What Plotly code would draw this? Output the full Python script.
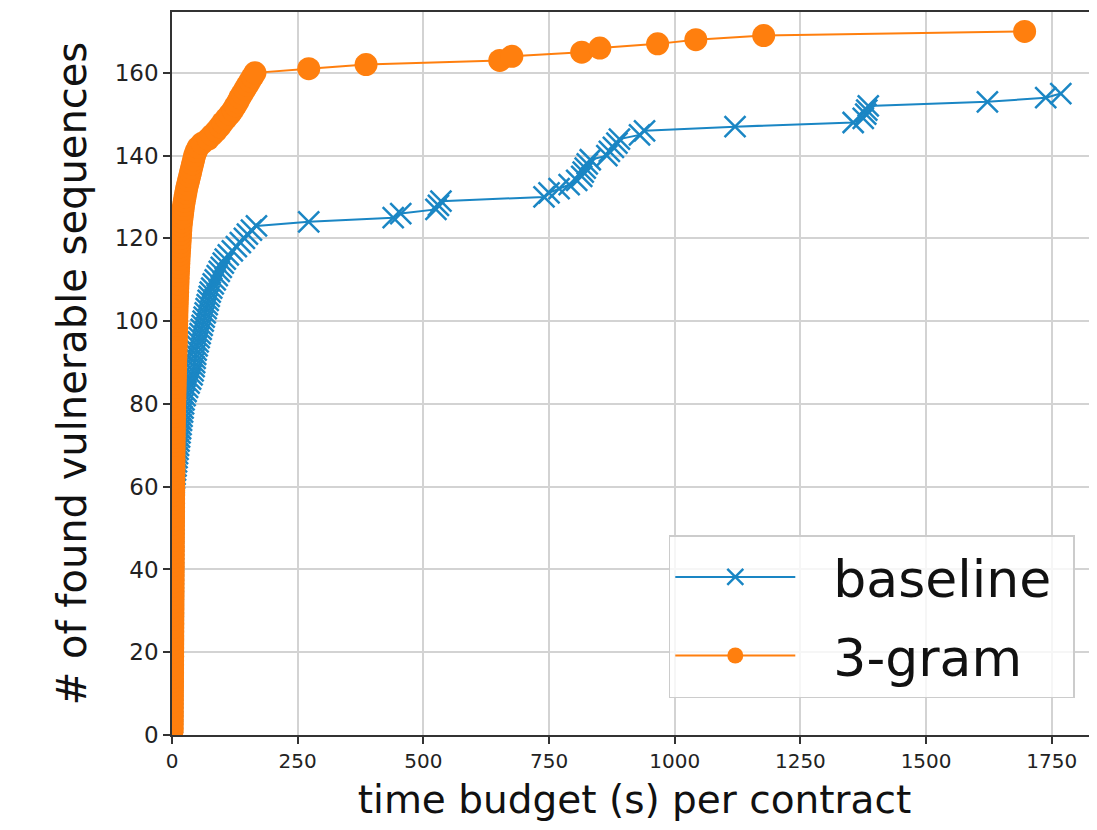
import plotly.graph_objects as go

# ---------------- data ----------------
# 3-gram: time (s) at which the k-th vulnerable sequence was found, and cumulative count
gram_time = [
    0.3, 0.4, 0.5, 0.5, 0.6, 0.6, 0.7, 0.7, 0.8, 0.8,
    0.9, 0.9, 1.0, 1.0, 1.1, 1.1, 1.2, 1.2, 1.3, 1.3,
    1.4, 1.4, 1.5, 1.5, 1.6, 1.6, 1.7, 1.7, 1.8, 1.8,
    1.9, 1.9, 2.0, 2.0, 2.1, 2.1, 2.2, 2.2, 2.3, 2.3,
    2.4, 2.4, 2.5, 2.5, 2.6, 2.6, 2.7, 2.7, 2.8, 2.8,
    2.9, 3.0, 3.0, 3.1, 3.1, 3.2, 3.2, 3.3, 3.3, 3.4,
    3.5, 3.5, 3.6, 3.7, 3.8, 3.8, 3.9, 4.0, 4.1, 4.2,
    4.3, 4.4, 4.5, 4.6, 4.7, 4.8, 4.9, 5.0, 5.2, 5.4,
    5.6, 5.8, 6.0, 6.2, 6.4, 6.6, 6.8, 7.0, 7.2, 7.4,
    7.6, 7.8, 8.0, 8.2, 8.4, 8.6, 8.8, 9.0, 9.2, 9.4,
    9.6, 9.8, 10.0, 10.3, 10.6, 10.9, 11.2, 11.5, 11.8, 12.1,
    12.4, 12.8, 13.2, 13.6, 14.0, 14.5, 15.0, 15.5, 16.0, 16.5,
    17.0, 17.5, 18.0, 19.0, 20.0, 21.0, 22.0, 23.0, 24.5, 26.0,
    27.5, 29.0, 31.0, 33.0, 35.0, 37.0, 39.0, 41.0, 43.0, 45.0,
    48.0, 52.0, 60.0, 72.0, 80.0, 88.0, 95.0, 101.0, 108.0, 115.0,
    121.0, 126.0, 131.0, 135.0, 140.0, 145.0, 150.0, 155.0, 160.0, 165.0,
    272.0, 386.0, 652.0, 676.0, 815.0, 851.0, 966.0, 1042.0, 1177.0, 1696.0,
]
gram_count = [
    1, 2, 3, 4, 5, 6, 7, 8, 9, 10, 11, 12, 13, 14, 15, 16, 17, 18, 19, 20,
    21, 22, 23, 24, 25, 26, 27, 28, 29, 30, 31, 32, 33, 34, 35, 36, 37, 38, 39, 40,
    41, 42, 43, 44, 45, 46, 47, 48, 49, 50, 51, 52, 53, 54, 55, 56, 57, 58, 59, 60,
    61, 62, 63, 64, 65, 66, 67, 68, 69, 70, 71, 72, 73, 74, 75, 76, 77, 78, 79, 80,
    81, 82, 83, 84, 85, 86, 87, 88, 89, 90, 91, 92, 93, 94, 95, 96, 97, 98, 99, 100,
    101, 102, 103, 104, 105, 106, 107, 108, 109, 110, 111, 112, 113, 114, 115, 116, 117, 118, 119, 120,
    121, 122, 123, 124, 125, 126, 127, 128, 129, 130, 131, 132, 133, 134, 135, 136, 137, 138, 139, 140,
    141, 142, 143, 144, 145, 146, 147, 148, 149, 150, 151, 152, 153, 154, 155, 156, 157, 158, 159, 160,
    161, 162, 163, 164, 165, 166, 167, 168, 169, 170,
]

# baseline
base_time = [
    0.5, 0.5, 0.6, 0.6, 0.7, 0.7, 0.8, 0.8, 0.9, 0.9,
    1.0, 1.0, 1.1, 1.1, 1.2, 1.2, 1.3, 1.3, 1.4, 1.4,
    1.5, 1.5, 1.6, 1.6, 1.7, 1.7, 1.8, 1.8, 1.9, 1.9,
    2.0, 2.0, 2.1, 2.1, 2.2, 2.2, 2.3, 2.3, 2.4, 2.4,
    2.5, 2.5, 2.6, 2.6, 2.7, 2.7, 2.8, 2.8, 2.9, 2.9,
    3.0, 3.0, 3.1, 3.1, 3.2, 3.2, 3.3, 3.3, 3.4, 3.5,
    4.0, 5.0, 6.0, 7.0, 8.0, 9.0, 10.0, 11.0, 12.0, 13.0,
    14.0, 15.0, 16.0, 17.0, 18.0, 19.0, 20.0, 21.0, 22.0, 23.0,
    24.0, 26.0, 28.0, 31.0, 34.0, 37.0, 40.0, 42.0, 44.0, 45.0,
    46.0, 47.0, 48.0, 50.0, 52.0, 54.0, 56.0, 58.0, 60.0, 62.0,
    64.0, 66.0, 68.0, 70.0, 72.0, 74.0, 76.0, 79.0, 82.0, 86.0,
    90.0, 94.0, 98.0, 102.0, 106.0, 112.0, 120.0, 128.0, 136.0, 144.0,
    150.0, 158.0, 168.0, 272.0, 440.0, 455.0, 525.0, 530.0, 535.0, 740.0,
    750.0, 770.0, 790.0, 805.0, 815.0, 818.0, 822.0, 826.0, 832.0, 865.0,
    870.0, 878.0, 885.0, 890.0, 930.0, 940.0, 1120.0, 1355.0, 1375.0, 1380.0,
    1382.0, 1385.0, 1622.0, 1738.0, 1768.0,
]
base_count = [
    1, 2, 3, 4, 5, 6, 7, 8, 9, 10, 11, 12, 13, 14, 15, 16, 17, 18, 19, 20,
    21, 22, 23, 24, 25, 26, 27, 28, 29, 30, 31, 32, 33, 34, 35, 36, 37, 38, 39, 40,
    41, 42, 43, 44, 45, 46, 47, 48, 49, 50, 51, 52, 53, 54, 55, 56, 57, 58, 59, 60,
    61, 62, 63, 64, 65, 66, 67, 68, 69, 70, 71, 72, 73, 74, 75, 76, 77, 78, 79, 80,
    81, 82, 83, 84, 85, 86, 87, 88, 89, 90, 91, 92, 93, 94, 95, 96, 97, 98, 99, 100,
    101, 102, 103, 104, 105, 106, 107, 108, 109, 110, 111, 112, 113, 114, 115, 116, 117, 118, 119, 120,
    121, 122, 123, 124, 125, 126, 127, 128, 129, 130, 131, 132, 133, 134, 135, 136, 137, 138, 139, 140,
    141, 142, 143, 144, 145, 146, 147, 148, 149, 150, 151, 152, 153, 154, 155,
]

x_ticks = [0, 250, 500, 750, 1000, 1250, 1500, 1750]
y_ticks = [0, 20, 40, 60, 80, 100, 120, 140, 160]
series_names = ["baseline", "3-gram"]
x_title = "time budget (s) per contract"
y_title = "# of found vulnerable sequences"

BLUE = "#1a86c4"
ORANGE = "#ff7f0e"
FONT = "DejaVu Sans"
LPAD = "\u00a0\u00a0"  # gap between legend sample and label
RPAD = "\u00a0"        # right padding inside legend box

fig = go.Figure()
fig.add_trace(go.Scatter(
    x=base_time, y=base_count, name=LPAD + series_names[0] + RPAD, mode="lines+markers",
    line=dict(color=BLUE, width=2),
    marker=dict(symbol="x-thin", size=21, color=BLUE, line=dict(color=BLUE, width=2.5)),
    legendgroup="a",
))
fig.add_trace(go.Scatter(
    x=gram_time, y=gram_count, name=LPAD + series_names[1] + RPAD, mode="lines+markers",
    line=dict(color=ORANGE, width=2),
    marker=dict(symbol="circle", size=23, color=ORANGE),
    legendgroup="b",
))

axis_common = dict(
    showgrid=True, gridcolor="#d3d3d3", gridwidth=1.5,
    showline=True, linecolor="#333333", linewidth=1.5,
    ticks="outside", ticklen=7, tickwidth=1.5, tickcolor="#333333",
    zeroline=False, automargin=False,
)

# Page body adds an 8px offset; the figure is sized so the page does not overflow
# (no scrollbars) while the plot area reaches the right edge of the window.
# plot width = 1089 - 164 = 925 px  ->  x range 0 .. 925/0.5027
fig.update_layout(
    width=1089, height=814,
    margin=dict(l=164, r=0, t=4, b=87),
    paper_bgcolor="white", plot_bgcolor="white",
    font=dict(family=FONT),
    xaxis=dict(
        range=[0, 1840.0], tickvals=x_ticks, mirror=True,
        tickfont=dict(family=FONT, size=20, color="#222222"),
        title=dict(text=x_title, font=dict(family=FONT, size=39, color="#111111"), standoff=19),
        **axis_common,
    ),
    yaxis=dict(
        range=[0, 174.7], tickvals=y_ticks, mirror=False,
        tickfont=dict(family=FONT, size=23, color="#222222"),
        title=dict(text=y_title, font=dict(family=FONT, size=40, color="#111111"), standoff=16),
        **axis_common,
    ),
    legend=dict(
        x=0.976, y=0.051, xanchor="right", yanchor="bottom",
        bgcolor="rgba(255,255,255,0.8)", bordercolor="#cccccc", borderwidth=1.5,
        font=dict(family=FONT, size=52, color="#111111"),
        itemwidth=120, tracegroupgap=8,
    ),
    showlegend=True,
)

fig.write_html("out.html")
